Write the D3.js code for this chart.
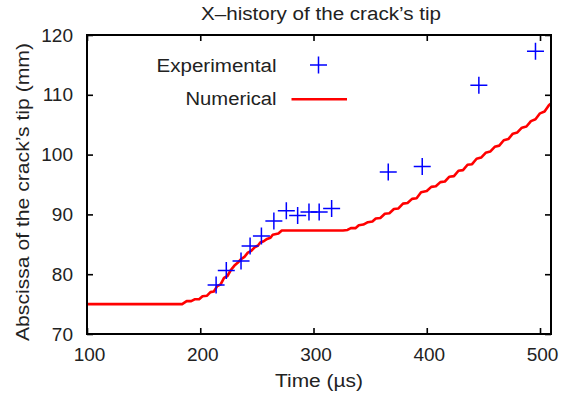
<!DOCTYPE html>
<html>
<head>
<meta charset="utf-8">
<script src="https://cdn.jsdelivr.net/npm/d3@7"></script>
<style>
  html, body { margin: 0; padding: 0; background: #fff; }
  svg text { font-family: "Liberation Sans", Arial, Helvetica, sans-serif; fill: #222; }
</style>
</head>
<body>
<svg id="chart" width="575" height="396"></svg>
<script>
// Experimental measurements of the crack tip abscissa
const expTime = [214, 223, 236, 244, 254, 265, 276, 286, 296, 305, 316, 366, 396, 446, 496];
const expX    = [78.2, 80.6, 82.2, 84.7, 86.4, 88.9, 90.6, 89.8, 90.4, 90.4, 91.0, 97.1, 98.0, 111.6, 117.3];

// Numerical prediction (stair-like history of the tip position)
const numTime = [100, 184, 188, 192, 195, 199, 202, 206, 209, 212, 215, 218, 221, 224, 227, 230, 233, 236,
                 239, 242, 245, 248, 251, 253, 256, 259, 262, 264, 269, 272, 326,
                 330, 333, 337, 340, 344, 348, 352, 355, 359, 363, 367, 371, 375, 379, 383, 387, 391,
                 395, 400, 404, 408, 412, 416, 420, 424, 428, 432, 436, 440, 444, 448, 452, 456, 460,
                 464, 468, 472, 476, 480, 484, 488, 492, 496, 500, 504, 508, 510];
const numX    = [75.0, 75.0, 75.5, 75.5, 75.8, 75.8, 76.3, 76.4, 77.0, 77.1, 78.0, 78.3, 79.4, 79.7, 80.7, 81.4, 81.9, 82.5,
                 82.9, 83.6, 83.9, 84.5, 84.8, 85.3, 85.5, 85.9, 86.1, 86.6, 86.8, 87.3, 87.3,
                 87.4, 87.7, 87.7, 88.2, 88.3, 88.7, 88.8, 89.3, 89.4, 90.1, 90.2, 90.9, 91.0, 91.8, 91.9, 92.6, 92.7,
                 93.7, 93.9, 94.6, 94.7, 95.4, 95.5, 96.3, 96.4, 97.3, 97.4, 98.3, 98.4, 99.3, 99.5, 100.3, 100.5, 101.3,
                 101.5, 102.4, 102.6, 103.5, 103.7, 104.5, 104.7, 105.6, 105.9, 106.9, 107.2, 108.3, 108.6];

const xTicks = [100, 200, 300, 400, 500];
const yTicks = [70, 80, 90, 100, 110, 120];

const titleText = "X\u2013history of the crack\u2019s tip";
const xLabel = "Time (\u00b5s)";
const yLabel = "Abscissa of the crack\u2019s tip (mm)";
const legendNames = ["Experimental", "Numerical"];

const margin = { left: 87, right: 24, top: 35, bottom: 62 };
const W = 575, H = 396;
const svg = d3.select("#chart");

const xMax = 509.7;
const x = d3.scaleLinear().domain([100, xMax]).range([margin.left, W - margin.right]);
const y = d3.scaleLinear().domain([70, 120]).range([H - margin.bottom, margin.top]);

const tickFs = 19;
const labelFs = 18;

// Numerical curve
const numData = numTime.map((t, i) => [t, numX[i]]);
svg.append("path")
  .datum(numData)
  .attr("fill", "none")
  .attr("stroke", "#ff0000")
  .attr("stroke-width", 2.6)
  .attr("stroke-linejoin", "round")
  .attr("d", d3.line().x(d => x(d[0])).y(d => y(d[1])));

// Experimental points drawn as plus signs
const crossPath = (cx, cy, r) => `M${cx - r},${cy}H${cx + r}M${cx},${cy - r}V${cy + r}`;
const expData = expTime.map((t, i) => [t, expX[i]]);
svg.append("g")
  .selectAll("path")
  .data(expData)
  .join("path")
  .attr("d", d => crossPath(x(d[0]), y(d[1]), 8.5))
  .attr("stroke", "#0000ff")
  .attr("stroke-width", 1.5)
  .attr("fill", "none");

// Axes: ticks pointing inward on all four sides
const axisStyle = g => {
  g.select(".domain").remove();
  g.selectAll(".tick line").attr("stroke", "#000").attr("stroke-width", 1.6);
  g.selectAll(".tick text").attr("font-size", tickFs).attr("fill", "#222")
    .attr("font-family", "Liberation Sans, Arial, sans-serif");
};

svg.append("g")
  .attr("transform", `translate(0,${y(70)})`)
  .call(d3.axisBottom(x).tickValues(xTicks).tickSizeInner(-6).tickSizeOuter(0).tickPadding(14))
  .call(axisStyle)
  .call(g => g.selectAll(".tick text").attr("dx", 2));

svg.append("g")
  .attr("transform", `translate(0,${y(120)})`)
  .call(d3.axisTop(x).tickValues(xTicks).tickSizeInner(-6).tickSizeOuter(0).tickFormat(""))
  .call(axisStyle);

svg.append("g")
  .attr("transform", `translate(${x(100)},0)`)
  .call(d3.axisLeft(y).tickValues(yTicks).tickSizeInner(-6).tickSizeOuter(0).tickPadding(14))
  .call(axisStyle);

svg.append("g")
  .attr("transform", `translate(${x(xMax)},0)`)
  .call(d3.axisRight(y).tickValues(yTicks).tickSizeInner(-6).tickSizeOuter(0).tickFormat(""))
  .call(axisStyle);

// Frame
svg.append("rect")
  .attr("x", x(100)).attr("y", y(120))
  .attr("width", x(xMax) - x(100)).attr("height", y(70) - y(120))
  .attr("fill", "none").attr("stroke", "#000").attr("stroke-width", 2);

// Title and axis labels (set in a wide Helvetica-like face)
const wideText = (sel, len) => sel.attr("textLength", len).attr("lengthAdjust", "spacingAndGlyphs");

svg.append("text")
  .attr("x", (x(100) + x(xMax)) / 2 + 2).attr("y", 20)
  .attr("text-anchor", "middle").attr("font-size", labelFs)
  .text(titleText)
  .call(wideText, 240);

svg.append("text")
  .attr("x", 319).attr("y", 387)
  .attr("text-anchor", "middle").attr("font-size", labelFs)
  .text(xLabel)
  .call(wideText, 88);

svg.append("text")
  .attr("transform", `translate(29,192) rotate(-90)`)
  .attr("text-anchor", "middle").attr("font-size", labelFs)
  .text(yLabel)
  .call(wideText, 298);

// Legend
const legend = svg.append("g");
legend.append("text")
  .attr("x", 276.5).attr("y", 72)
  .attr("text-anchor", "end").attr("font-size", labelFs)
  .text(legendNames[0])
  .call(wideText, 120);
legend.append("path")
  .attr("d", crossPath(318.5, 65, 8.5))
  .attr("stroke", "#0000ff").attr("stroke-width", 1.5).attr("fill", "none");
legend.append("text")
  .attr("x", 276.5).attr("y", 105)
  .attr("text-anchor", "end").attr("font-size", labelFs)
  .text(legendNames[1])
  .call(wideText, 91);
legend.append("line")
  .attr("x1", 291.5).attr("x2", 347).attr("y1", 99.3).attr("y2", 99.3)
  .attr("stroke", "#ff0000").attr("stroke-width", 2.6);
</script>
</body>
</html>
